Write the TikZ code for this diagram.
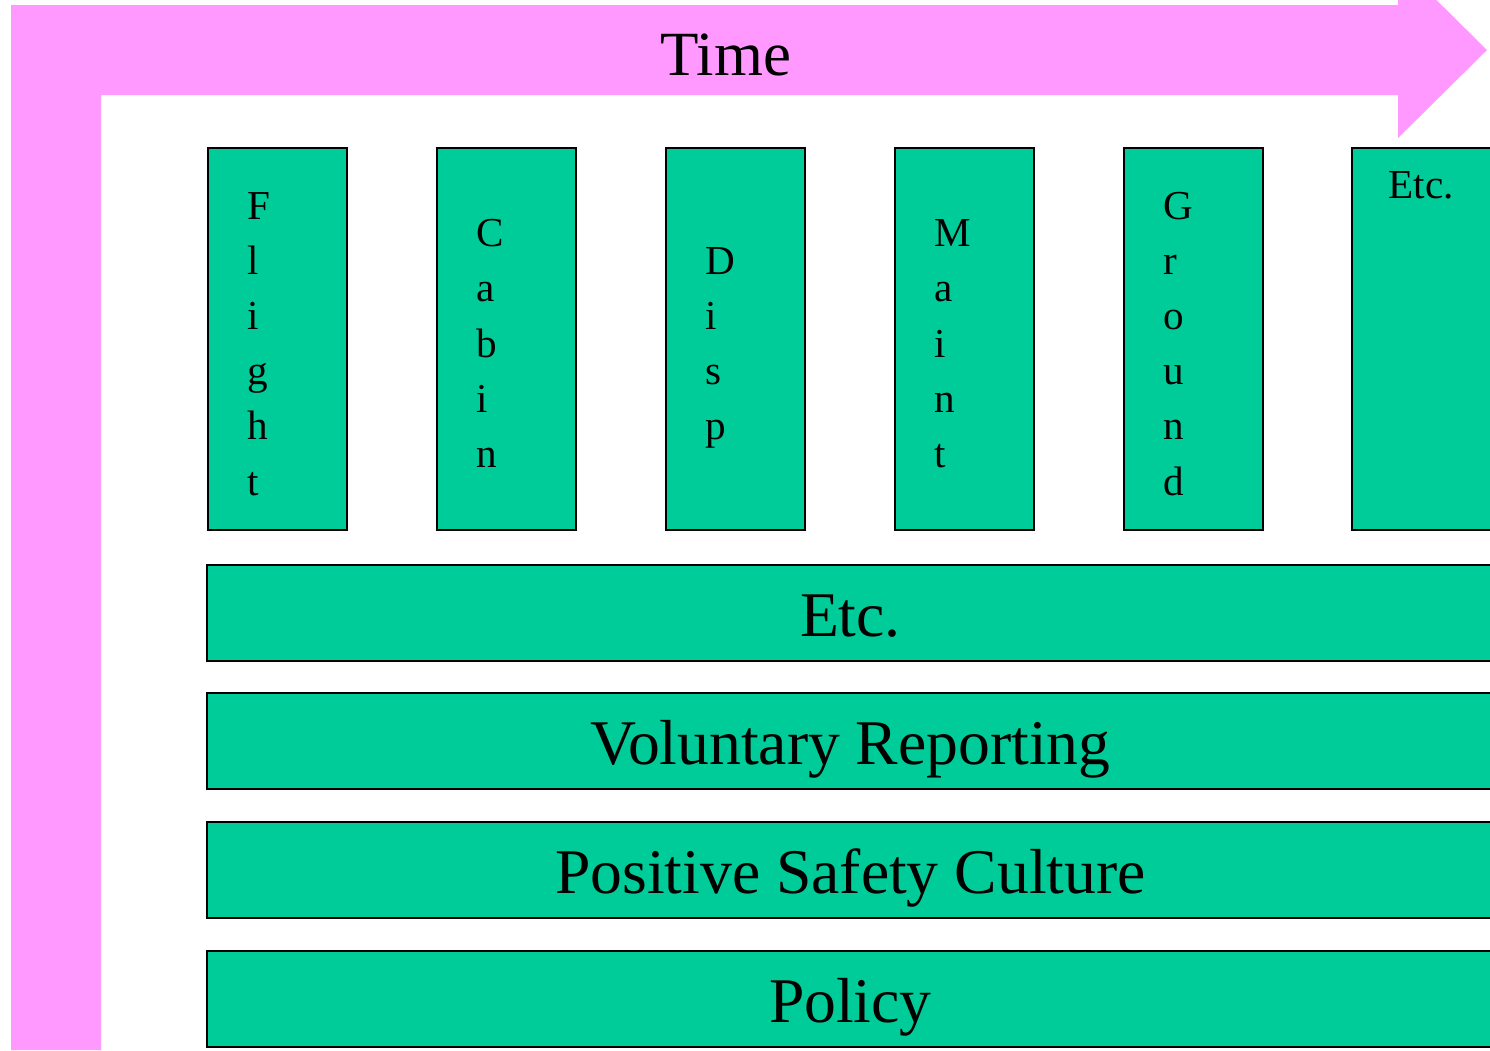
\documentclass[tikz,border=0pt]{standalone}
\usepackage{fontspec}
\setmainfont{Liberation Serif}
\usepackage{xcolor}
\usepackage{tikz}
\usetikzlibrary{positioning}
\definecolor{timepink}{HTML}{FF99FF}
\definecolor{pillar}{HTML}{00CC99}
\tikzset{
every picture/.style={x=0.01cm, y=-0.01cm},
%%%%%%%%%%  Node styles
column/.style={fill=pillar, draw=black, line width=0.7pt, inner sep=0pt,
               outer sep=0pt, minimum width=1.39cm, minimum height=3.82cm,
               anchor=north west},
layer/.style={fill=pillar, draw=black, line width=0.7pt, inner sep=0pt,
              outer sep=0pt, minimum width=12.86cm, minimum height=0.96cm,
              anchor=north west, font=\fontsize{18.1}{20}\selectfont,
              text height=0.50cm, text depth=0.04cm},
%%letters stacked one under the other
stacked/.style={anchor=west, align=left, inner sep=0pt, xshift=0.39cm,
                yshift=-0.07cm, font=\fontsize{11.7}{15.7}\selectfont},
big_label/.style={font=\fontsize{17.9}{20}\selectfont, inner sep=0pt},
small_label/.style={font=\fontsize{11.7}{14}\selectfont, inner sep=0pt}
}

\begin{document}
\begin{tikzpicture}
\useasboundingbox (0,0) rectangle (1490,1050);
\clip (0,0) rectangle (1490,1050);
%%time arrow
\fill[timepink] (11,1050) -- (11,5) -- (1398,5) -- (1398,-38) -- (1487,50)
	-- (1398,138) -- (1398,95) -- (101,95) -- (101,1050) -- cycle;
\node[big_label, anchor=base] (time) at (726,75) {Time};
%%%%%%%%%%%%%%%%%%%%%%%
%%columns
\node[column] (flight) at (208,148) {};
\node[column] (cabin) at (437,148) {};
\node[column] (disp) at (666,148) {};
\node[column] (maint) at (895,148) {};
\node[column] (ground) at (1124,148) {};
\node[column] (other) at (1352,148) {};
%%column labels
\node[stacked] (flight_t) at (flight.west) {\strut F\\ l\\ i\\ g\\ h\\ t\strut};
\node[stacked] (cabin_t) at (cabin.west) {\strut C\\ a\\ b\\ i\\ n\strut};
\node[stacked] (disp_t) at (disp.west) {\strut D\\ i\\ s\\ p\strut};
\node[stacked] (maint_t) at (maint.west) {\strut M\\ a\\ i\\ n\\ t\strut};
\node[stacked] (ground_t) at (ground.west) {\strut G\\ r\\ o\\ u\\ n\\ d\strut};
\node[small_label, anchor=base] (other_t) at (1421,198) {Etc.};
%%%%%%%%%%%%%%%%%%%%%%%
%%layers
\node[layer] (etc) at (207,565) {Etc.};
\node[layer] (voluntary) at (207,693) {Voluntary Reporting};
\node[layer] (culture) at (207,822) {Positive Safety Culture};
\node[layer] (policy) at (207,951) {Policy};
\end{tikzpicture}
\end{document}
